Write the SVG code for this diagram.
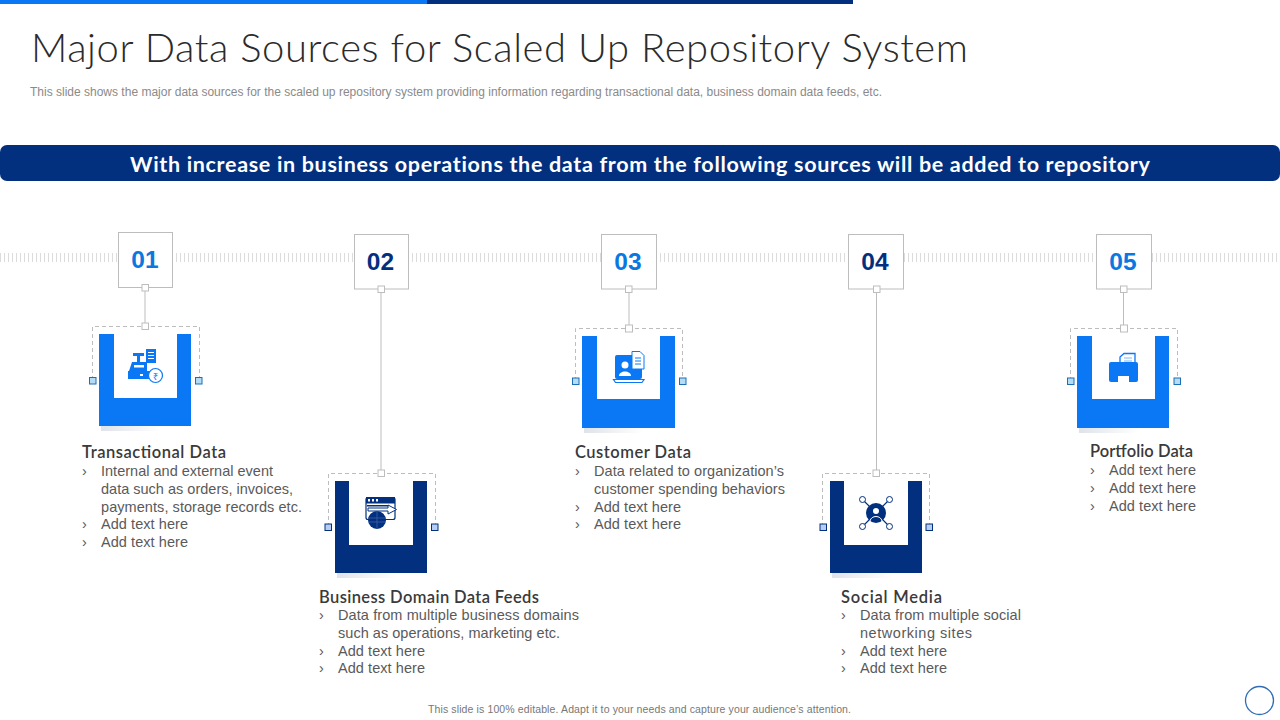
<svg xmlns="http://www.w3.org/2000/svg" width="1280" height="720" viewBox="0 0 1280 720">
<defs>
<linearGradient id="sh"><stop offset="0" stop-color="#dfe3ea"/><stop offset="1" stop-color="#dfe3ea" stop-opacity="0"/></linearGradient>
<style>
.bg{fill:#fff}
.box{fill:#fff;stroke:#bdbdbd;stroke-width:1}
.conn{stroke:#bdbdbd;stroke-width:1;fill:none}
.hs{fill:#fff;stroke:#bdbdbd;stroke-width:1}
.dash{fill:none;stroke:#bdbdbd;stroke-width:1;stroke-dasharray:4 3}
.num{font:700 24.500px "Liberation Sans",Arial,sans-serif;text-anchor:middle}
.head{font:600 16.500px "Lato","Liberation Sans",sans-serif;fill:#3a3a3a}
.body{font:14.500px "Liberation Sans",Arial,sans-serif;fill:#5a5a5a}
.blue{fill:#0a78f5}.navy{fill:#02307f}
.tblue{fill:#0a78e0}.tnavy{fill:#02307f}
.shadow{fill:url(#sh)}
.hb{fill:#b5dcf5;stroke:#1c6fb5;stroke-width:1}
.hn{fill:#b8cdf2;stroke:#02307f;stroke-width:1}
</style>
</defs>
<rect class="bg" width="1280" height="720"/>
<rect x="0" y="0" width="427" height="4" fill="#0a78f5"/>
<rect x="427" y="0" width="426" height="4" fill="#02307f"/>
<text x="31" y="62" textLength="937" font-family="Lato,'Liberation Sans',sans-serif" font-weight="300" font-size="40" fill="#2b2b2b">Major Data Sources for Scaled Up Repository System</text>
<text x="30" y="96" textLength="852" font-family="'Liberation Sans',Arial,sans-serif" font-size="12" fill="#8a8a8a">This slide shows the major data sources for the scaled up repository system providing information regarding transactional data, business domain data feeds, etc.</text>
<rect x="0" y="145" width="1280" height="36" rx="7" fill="#02307f"/>
<text x="130" y="172" textLength="1020" font-family="Lato,'Liberation Sans',sans-serif" font-weight="700" font-size="21.500" letter-spacing="0.100" fill="#fff">With increase in business operations the data from the following sources will be added to repository</text>
<line x1="0" y1="257.500" x2="1280" y2="257.500" stroke="#dcdcdc" stroke-width="9" stroke-dasharray="1 3"/>

<g id="connectors">
<line class="conn" x1="145" y1="287" x2="145" y2="326"/>
<line class="conn" x1="381" y1="289" x2="381" y2="473"/>
<line class="conn" x1="629" y1="289" x2="629" y2="328"/>
<line class="conn" x1="876.500" y1="289" x2="876.500" y2="473"/>
<line class="conn" x1="1123.500" y1="289" x2="1123.500" y2="328"/>
</g>

<g id="node-01">
<rect class="box" x="118.500" y="232.500" width="54" height="55"/>
<text class="num tblue" x="145" y="268">01</text>
<rect class="hs" x="142" y="284.500" width="6.500" height="6.500"/>
<path class="dash" d="M92.500 380V326.500H199.500V380"/>
<rect class="hs" x="142" y="323" width="6.500" height="6.500"/>
<rect class="hb" x="89.500" y="377.500" width="6.500" height="6.500"/>
<rect class="hb" x="195.500" y="377.500" width="6.500" height="6.500"/>
<rect class="shadow" x="101" y="426" width="60" height="5"/>
<path class="blue" d="M99 334H114V398H177V334H191V426H99Z"/>
<g class="blue">
<rect x="128" y="371" width="27" height="8"/>
<path d="M132 362H147V371H129Z"/>
<rect x="133" y="353" width="11" height="3"/><rect x="137" y="355" width="3" height="8"/>
<path d="M146 349H156V363H146Z"/>
</g>
<g fill="#fff"><rect x="134" y="365" width="10" height="2.500"/><rect x="148" y="352" width="6" height="1"/><rect x="148" y="355" width="6" height="1"/><rect x="148" y="358" width="6" height="1"/><rect x="140" y="374" width="3" height="2"/></g>
<circle cx="155.500" cy="375.500" r="7" fill="#fff" stroke="#0a78f5" stroke-width="1.200"/>
<text x="155.500" y="379.500" font-family="'Noto Sans','DejaVu Sans',sans-serif" font-size="10" fill="#0a78f5" text-anchor="middle">₹</text>
<text class="head" x="82" y="458" textLength="144">Transactional Data</text>
<text class="body"><tspan x="82" y="476">›</tspan><tspan x="101" y="476" textLength="172">Internal and external event</tspan><tspan x="101" y="494" textLength="192">data such as orders, invoices,</tspan><tspan x="101" y="512" textLength="201">payments, storage records etc.</tspan><tspan x="82" y="529">›</tspan><tspan x="101" y="529" textLength="87">Add text here</tspan><tspan x="82" y="547">›</tspan><tspan x="101" y="547" textLength="87">Add text here</tspan></text>
</g>

<g id="node-02">
<rect class="box" x="354.500" y="234.500" width="54" height="54.500"/>
<text class="num tnavy" x="380.500" y="270">02</text>
<rect class="hs" x="378" y="286" width="6.500" height="6.500"/>
<path class="dash" d="M328.500 527V473.500H435.500V527"/>
<rect class="hs" x="378" y="470" width="6.500" height="6.500"/>
<rect class="hn" x="325" y="524" width="6.500" height="6.500"/>
<rect class="hn" x="431.500" y="524" width="6.500" height="6.500"/>
<rect class="shadow" x="337" y="573" width="60" height="5"/>
<path class="navy" d="M335 481H349V545H413V481H427V573H335Z"/>
<rect x="366" y="497.500" width="29" height="22" rx="2" fill="#fff" stroke="#02307f" stroke-width="1.200"/>
<rect class="navy" x="366" y="497" width="29" height="6.500"/>
<g fill="#fff"><rect x="368" y="499" width="2" height="2.500"/><rect x="372" y="499" width="2" height="2.500"/><rect x="376" y="499" width="2" height="2.500"/></g>
<rect class="navy" x="367" y="505" width="22" height="1.500"/>
<path d="M368 508H388V505L396.500 509.500L388 514V511H368Z" fill="#fff" stroke="#02307f" stroke-width="1"/>
<circle class="navy" cx="377" cy="520" r="9"/>
<path d="M369 518H385M369 522H385M377 511V529" stroke="#3d5fa8" stroke-width="0.800" fill="none"/>
<text class="head" x="319" y="603" textLength="220">Business Domain Data Feeds</text>
<text class="body"><tspan x="319" y="620">›</tspan><tspan x="338" y="620" textLength="241">Data from multiple business domains</tspan><tspan x="338" y="638" textLength="222">such as operations, marketing etc.</tspan><tspan x="319" y="656">›</tspan><tspan x="338" y="656" textLength="87">Add text here</tspan><tspan x="319" y="673">›</tspan><tspan x="338" y="673" textLength="87">Add text here</tspan></text>
</g>

<g id="node-03">
<rect class="box" x="601.500" y="234.500" width="55" height="54.500"/>
<text class="num tblue" x="628" y="270">03</text>
<rect class="hs" x="625.500" y="286" width="6.500" height="6.500"/>
<path class="dash" d="M575.500 381V328.500H682.500V381"/>
<rect class="hs" x="625.500" y="325" width="7" height="7"/>
<rect class="hb" x="572.500" y="378" width="6.500" height="6.500"/>
<rect class="hb" x="679.500" y="378" width="6.500" height="6.500"/>
<rect class="shadow" x="584" y="428" width="60" height="5"/>
<path class="blue" d="M582 336H597V399H660V336H675V428H582Z"/>
<rect class="blue" x="615" y="355" width="27" height="24" rx="2"/>
<path d="M613.500 379.500H644L642 382.500H615.500Z" fill="#fff" stroke="#0a78f5" stroke-width="1.200"/>
<path d="M632 351.500H640L644 355.500V369H632Z" fill="#fff" stroke="#0a78f5" stroke-width="1"/>
<path d="M635 358H641M635 361H641M635 364H641" stroke="#0a78f5" stroke-width="1"/>
<circle cx="625" cy="365" r="3.500" fill="#fff"/>
<path d="M619 376C619 370 631 370 631 376Z" fill="#fff"/>
<text class="head" x="575" y="458" textLength="116">Customer Data</text>
<text class="body"><tspan x="575" y="476">›</tspan><tspan x="594" y="476" textLength="190">Data related to organization’s</tspan><tspan x="594" y="494" textLength="191">customer spending behaviors</tspan><tspan x="575" y="512">›</tspan><tspan x="594" y="512" textLength="87">Add text here</tspan><tspan x="575" y="529">›</tspan><tspan x="594" y="529" textLength="87">Add text here</tspan></text>
</g>

<g id="node-04">
<rect class="box" x="848.500" y="234.500" width="55" height="54.500"/>
<text class="num tnavy" x="875" y="270">04</text>
<rect class="hs" x="873.500" y="286" width="6.500" height="6.500"/>
<path class="dash" d="M822.500 527V473.500H929.500V527"/>
<rect class="hs" x="873" y="470" width="6.500" height="6.500"/>
<rect class="hn" x="820" y="524" width="6.500" height="6.500"/>
<rect class="hn" x="926" y="524" width="6.500" height="6.500"/>
<rect class="shadow" x="832" y="573" width="60" height="5"/>
<path class="navy" d="M830 481H844V545H908V481H922V573H830Z"/>
<path d="M862.500 499.500L889.500 526.500M889.500 499.500L862.500 526.500" stroke="#02307f" stroke-width="1.200"/>
<circle cx="862.500" cy="499.500" r="3" fill="#fff" stroke="#02307f" stroke-width="1"/>
<circle cx="889.500" cy="499.500" r="3" fill="#fff" stroke="#02307f" stroke-width="1"/>
<circle cx="862.500" cy="526.500" r="3" fill="#fff" stroke="#02307f" stroke-width="1"/>
<circle cx="889.500" cy="526.500" r="3" fill="#fff" stroke="#02307f" stroke-width="1"/>
<circle class="navy" cx="876" cy="513" r="10"/>
<circle cx="876" cy="511" r="3" fill="#fff"/>
<path d="M870 521C871 515 881 515 882 521" fill="none" stroke="#fff" stroke-width="1"/>
<text class="head" x="841" y="603" textLength="101">Social Media</text>
<text class="body"><tspan x="841" y="620">›</tspan><tspan x="860" y="620" textLength="161">Data from multiple social</tspan><tspan x="860" y="638" textLength="112">networking sites</tspan><tspan x="841" y="656">›</tspan><tspan x="860" y="656" textLength="87">Add text here</tspan><tspan x="841" y="673">›</tspan><tspan x="860" y="673" textLength="87">Add text here</tspan></text>
</g>

<g id="node-05">
<rect class="box" x="1096.500" y="234.500" width="55" height="54.500"/>
<text class="num tblue" x="1123" y="270">05</text>
<rect class="hs" x="1120.500" y="286" width="6.500" height="6.500"/>
<path class="dash" d="M1070.500 381V328.500H1177.500V381"/>
<rect class="hs" x="1120.500" y="325" width="7" height="7"/>
<rect class="hb" x="1067.500" y="378" width="6.500" height="6.500"/>
<rect class="hb" x="1174" y="378" width="6.500" height="6.500"/>
<rect class="shadow" x="1079" y="428" width="60" height="5"/>
<path class="blue" d="M1077 336H1092V399H1155V336H1169V428H1077Z"/>
<path d="M1120 357L1124 353.500H1135V366H1120Z" fill="#fff" stroke="#0a78f5" stroke-width="1.300"/>
<path d="M1124 358H1132M1124 361H1132" stroke="#7fb8f5" stroke-width="1"/>
<rect class="blue" x="1109" y="362" width="29" height="20" rx="2"/>
<rect x="1118" y="376" width="11" height="6" fill="#fff"/>
<text class="head" x="1090" y="457" textLength="103">Portfolio Data</text>
<text class="body"><tspan x="1090" y="475">›</tspan><tspan x="1109" y="475" textLength="87">Add text here</tspan><tspan x="1090" y="493">›</tspan><tspan x="1109" y="493" textLength="87">Add text here</tspan><tspan x="1090" y="511">›</tspan><tspan x="1109" y="511" textLength="87">Add text here</tspan></text>
</g>

<text x="428" y="713" textLength="423" font-family="'Liberation Sans',Arial,sans-serif" font-size="10.500" fill="#777">This slide is 100% editable. Adapt it to your needs and capture your audience’s attention.</text>
<circle cx="1259.500" cy="700.500" r="14" fill="#fff" stroke="#2f6db5" stroke-width="1.300"/>
</svg>
